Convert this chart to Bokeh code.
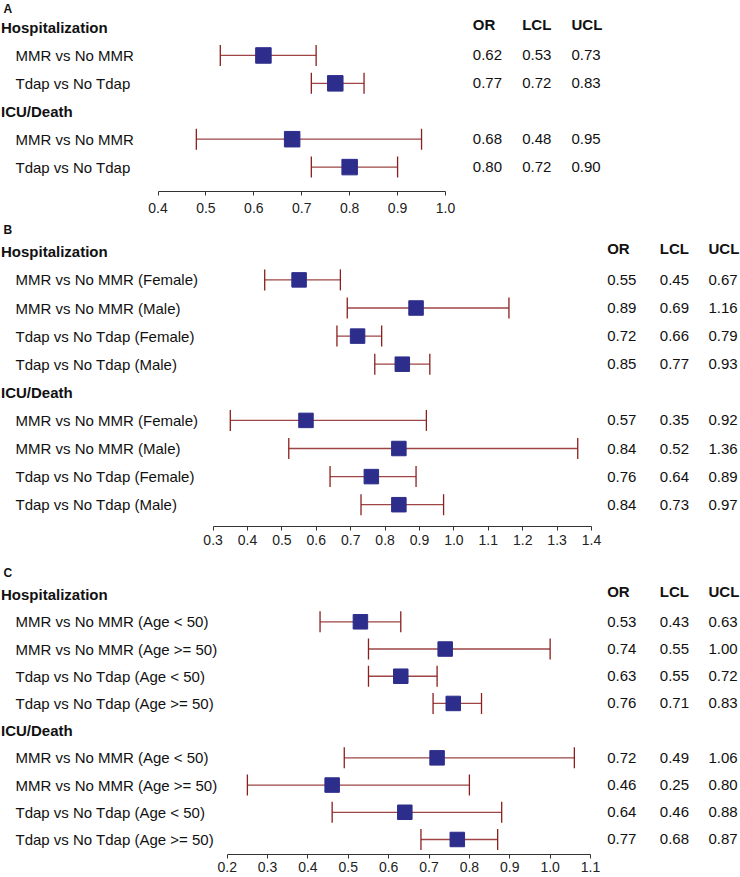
import numpy as np
from bokeh.plotting import figure
from bokeh.models import Range1d, FixedTicker, PrintfTickFormatter, ColumnDataSource, Whisker, TeeHead
from bokeh.layouts import column
from bokeh.core.properties import value
from bokeh.embed import file_html
from bokeh.resources import INLINE

# ---------------- data ----------------
col_headers = ["OR", "LCL", "UCL"]

a_group = ["Hospitalization", "Hospitalization", "ICU/Death", "ICU/Death"]
a_labels = ["MMR vs No MMR", "Tdap vs No Tdap", "MMR vs No MMR", "Tdap vs No Tdap"]
a_or = [0.62, 0.77, 0.68, 0.80]
a_lcl = [0.53, 0.72, 0.48, 0.72]
a_ucl = [0.73, 0.83, 0.95, 0.90]
a_ticks = [0.4, 0.5, 0.6, 0.7, 0.8, 0.9, 1.0]

b_group = ["Hospitalization"] * 4 + ["ICU/Death"] * 4
b_labels = ["MMR vs No MMR (Female)", "MMR vs No MMR (Male)",
            "Tdap vs No Tdap (Female)", "Tdap vs No Tdap (Male)",
            "MMR vs No MMR (Female)", "MMR vs No MMR (Male)",
            "Tdap vs No Tdap (Female)", "Tdap vs No Tdap (Male)"]
b_or = [0.55, 0.89, 0.72, 0.85, 0.57, 0.84, 0.76, 0.84]
b_lcl = [0.45, 0.69, 0.66, 0.77, 0.35, 0.52, 0.64, 0.73]
b_ucl = [0.67, 1.16, 0.79, 0.93, 0.92, 1.36, 0.89, 0.97]
b_ticks = [0.3, 0.4, 0.5, 0.6, 0.7, 0.8, 0.9, 1.0, 1.1, 1.2, 1.3, 1.4]

c_group = ["Hospitalization"] * 4 + ["ICU/Death"] * 4
c_labels = ["MMR vs No MMR (Age < 50)", "MMR vs No MMR (Age >= 50)",
            "Tdap vs No Tdap (Age < 50)", "Tdap vs No Tdap (Age >= 50)",
            "MMR vs No MMR (Age < 50)", "MMR vs No MMR (Age >= 50)",
            "Tdap vs No Tdap (Age < 50)", "Tdap vs No Tdap (Age >= 50)"]
c_or = [0.53, 0.74, 0.63, 0.76, 0.72, 0.46, 0.64, 0.77]
c_lcl = [0.43, 0.55, 0.55, 0.71, 0.49, 0.25, 0.46, 0.68]
c_ucl = [0.63, 1.00, 0.72, 0.83, 1.06, 0.80, 0.88, 0.87]
c_ticks = [0.2, 0.3, 0.4, 0.5, 0.6, 0.7, 0.8, 0.9, 1.0, 1.1]

# ---------------- style / layout ----------------
W = 740
FONT = value("Liberation Sans")
NAVY = "#2D2D8C"
ERR = "#9E4545"
CAP = "#8B1E1E"
TXT = "#111111"


def make_panel(letter, groups, labels, ors, lcls, ucls, ticks,
               axis_px, fit_b, fit_m, top_px, axis_y, bottom, standoff,
               col_x, sq, letter_i):
    v0, v1 = ticks[0], ticks[-1]
    p0, p1 = axis_px
    k = (v1 - v0) / (p1 - p0)

    def xv(px):
        return v0 + (px - p0) * k

    def iv(ref):
        return (ref - fit_b) / fit_m

    frame_h = axis_y - top_px
    height = frame_h + bottom

    p = figure(width=W, height=height, output_backend="svg", toolbar_location=None,
               x_range=Range1d(xv(0), xv(W)),
               y_range=Range1d(iv(axis_y), iv(top_px)),
               y_axis_location=None, x_axis_location="below",
               min_border_left=0, min_border_right=0, min_border_top=0,
               min_border_bottom=bottom, outline_line_color=None,
               background_fill_color="white", border_fill_color="white")
    p.grid.visible = False

    # row indices: group header then its rows
    head_y, head_t, row_y = [], [], []
    idx = 0
    prev = None
    for g in groups:
        if g != prev:
            head_y.append(idx)
            head_t.append(g)
            idx += 1
            prev = g
        row_y.append(idx)
        idx += 1

    src = ColumnDataSource(dict(y=row_y, orv=ors, lcl=lcls, ucl=ucls, lab=labels,
                                ors=["%.2f" % v for v in ors],
                                lcs=["%.2f" % v for v in lcls],
                                ucs=["%.2f" % v for v in ucls]))

    wh = Whisker(base="y", lower="lcl", upper="ucl", dimension="width", source=src,
                 line_color=ERR, line_width=1.3, level="underlay",
                 lower_head=TeeHead(size=21, line_color=CAP, line_width=1.3),
                 upper_head=TeeHead(size=21, line_color=CAP, line_width=1.3))
    p.add_layout(wh)
    p.scatter("orv", "y", source=src, marker="square", size=sq,
              fill_color=NAVY, line_color=NAVY)

    common = dict(text_font=FONT, text_font_size="15px", text_color=TXT,
                  text_baseline="middle", text_align="left")
    p.text(x=[xv(15)] * len(row_y), y=row_y, text=labels, **common)
    p.text(x=[xv(0.5)] * len(head_y), y=head_y, text=head_t,
           text_font_style="bold", **common)
    for cx, key in zip(col_x, ["ors", "lcs", "ucs"]):
        p.text(x=xv(cx), y="y", text=key, source=src, **common)
    p.text(x=[xv(c) for c in col_x], y=[-0.12] * 3, text=col_headers,
           text_font_style="bold", **common)
    p.text(x=[xv(3)], y=[letter_i], text=[letter], text_font=FONT,
           text_font_size="12px", text_font_style="bold", text_color=TXT,
           text_baseline="middle", text_align="left")

    ax = p.xaxis[0]
    ax.bounds = (v0, v1)
    ax.ticker = FixedTicker(ticks=ticks)
    ax.formatter = PrintfTickFormatter(format="%.1f")
    ax.minor_tick_line_color = None
    ax.major_tick_in = 0
    ax.major_tick_out = 4
    ax.axis_line_color = "#333333"
    ax.major_tick_line_color = "#333333"
    ax.major_label_text_font = "Liberation Sans"
    ax.major_label_text_font_size = "14px"
    ax.major_label_text_color = "#222222"
    ax.major_label_standoff = standoff
    return p


pA = make_panel("A", a_group, a_labels, a_or, a_lcl, a_ucl, a_ticks,
                (157.5, 445.0), 27.05, 27.91, 0, 191, 27, 7,
                (472.3, 521.7, 571.0), 15.5, -0.68)
pB = make_panel("B", b_group, b_labels, b_or, b_lcl, b_ucl, b_ticks,
                (212.6, 591.0), 251.3, 28.10, 218, 526, 26, 4,
                (606.7, 659.3, 708.0), 14.5, -0.76)
pC = make_panel("C", c_group, c_labels, c_or, c_lcl, c_ucl, c_ticks,
                (226.7, 590.0), 594.1, 27.21, 552, 854, 23, 3,
                (606.7, 659.3, 708.0), 14.5, -0.79)

layout = column(pA, pB, pC, spacing=0)
open("out.html", "w").write(file_html(layout, INLINE))
